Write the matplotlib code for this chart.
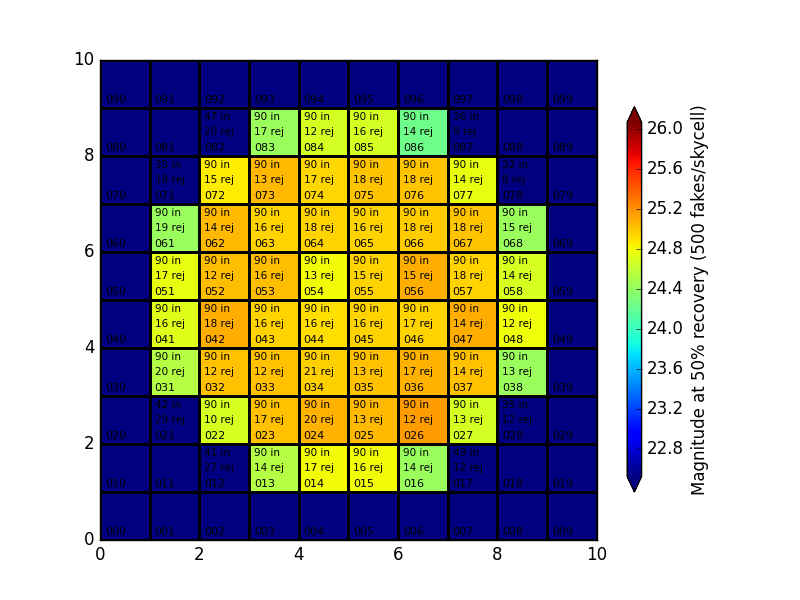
import numpy as np
import matplotlib
matplotlib.use("Agg")
from matplotlib import pyplot as plt

# Rows listed from y=0 (bottom) to y=9 (top); nan = no result for that skycell
magnitude = [
    [np.nan] * 10,
    [np.nan, np.nan, np.nan, 24.54, 24.80, 24.80, 24.43, np.nan, np.nan, np.nan],
    [np.nan, np.nan, 24.70, 25.03, 25.08, 25.06, 25.16, 24.68, np.nan, np.nan],
    [np.nan, 24.54, 25.03, 25.03, 24.97, 25.03, 25.08, 25.03, 24.43, np.nan],
    [np.nan, 24.72, 25.10, 24.95, 24.91, 24.95, 24.95, 25.10, 24.79, np.nan],
    [np.nan, 24.76, 25.04, 25.04, 24.81, 24.95, 25.10, 24.95, 24.70, np.nan],
    [np.nan, 24.43, 25.06, 24.95, 24.95, 24.95, 24.99, 25.01, 24.43, np.nan],
    [np.nan, np.nan, 24.86, 25.06, 24.94, 25.01, 25.01, 24.76, np.nan, np.nan],
    [np.nan, np.nan, np.nan, 24.43, 24.68, 24.68, 24.24, np.nan, np.nan, np.nan],
    [np.nan] * 10,
]

# fakes kept ("in") and rejected per skycell; 0 = nothing printed
n_in = [
    [0] * 10,
    [0, 0, 41, 90, 90, 90, 90, 49, 0, 0],
    [0, 42, 90, 90, 90, 90, 90, 90, 35, 0],
    [0, 90, 90, 90, 90, 90, 90, 90, 90, 0],
    [0, 90, 90, 90, 90, 90, 90, 90, 90, 0],
    [0, 90, 90, 90, 90, 90, 90, 90, 90, 0],
    [0, 90, 90, 90, 90, 90, 90, 90, 90, 0],
    [0, 35, 90, 90, 90, 90, 90, 90, 32, 0],
    [0, 0, 47, 90, 90, 90, 90, 36, 0, 0],
    [0] * 10,
]
n_rej = [
    [0] * 10,
    [0, 0, 27, 14, 17, 16, 14, 12, 0, 0],
    [0, 29, 10, 17, 20, 13, 12, 13, 12, 0],
    [0, 20, 12, 12, 21, 13, 17, 14, 13, 0],
    [0, 16, 18, 16, 16, 16, 17, 14, 12, 0],
    [0, 17, 12, 16, 13, 15, 15, 18, 14, 0],
    [0, 19, 14, 16, 18, 16, 18, 18, 15, 0],
    [0, 18, 15, 13, 17, 18, 18, 14, 8, 0],
    [0, 0, 20, 17, 12, 16, 14, 9, 0, 0],
    [0] * 10,
]

vmin, vmax = 22.53, 26.07

plt.style.use("classic")
fig = plt.figure(figsize=(8, 6), dpi=100, facecolor="white")
ax = fig.add_axes([0.125, 0.1, 0.621, 0.8])
cax = fig.add_axes([0.784, 0.18, 0.018, 0.642])

cmap = plt.get_cmap("jet").copy()
cmap.set_bad(cmap(0.0))
data = np.ma.masked_invalid(np.array(magnitude))
mesh = ax.pcolormesh(np.arange(11), np.arange(11), data, cmap=cmap,
                     vmin=vmin, vmax=vmax, edgecolors="k", linewidth=2)

for row in range(10):
    for col in range(10):
        ax.text(col + 0.1, row + 0.1, f"0{row}{col}", fontsize=8, va="baseline")
        if n_in[row][col] > 0:
            ax.text(col + 0.1, row + 0.75, f"{n_in[row][col]} in", fontsize=7.5, va="baseline")
            ax.text(col + 0.1, row + 0.44, f"{n_rej[row][col]} rej", fontsize=7.5, va="baseline")

ax.set_xlim(0, 10)
ax.set_ylim(0, 10)
ax.set_xticks([0, 2, 4, 6, 8, 10])
ax.set_yticks([0, 2, 4, 6, 8, 10])

cb = fig.colorbar(mesh, cax=cax, extend="both", extendfrac=0.044)
cb.set_ticks([22.8, 23.2, 23.6, 24.0, 24.4, 24.8, 25.2, 25.6, 26.0])
cb.set_label("Magnitude at 50% recovery (500 fakes/skycell)")

fig.savefig("out.png", dpi=100, facecolor="white")
